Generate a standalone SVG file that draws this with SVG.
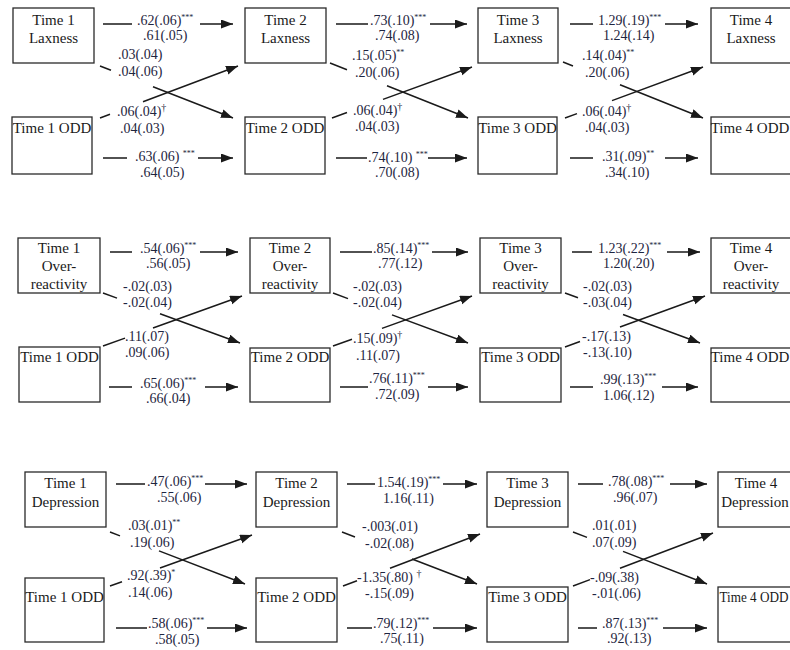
<svg xmlns="http://www.w3.org/2000/svg" width="790" height="650" viewBox="0 0 790 650">
<defs>
<style>
.box{fill:#fff;stroke:#2a2a2a;stroke-width:1.3}
.nt{font-family:"Liberation Serif","Times New Roman",serif;font-size:15px;fill:#1a1a1a;text-anchor:middle}
.lb{font-family:"Liberation Serif","Times New Roman",serif;font-size:14px;fill:#1e2540}
.sup{font-size:8px}
.dg{font-size:10px}
.cn{fill:none;stroke:#1a1a1a;stroke-width:1.5;marker-end:url(#ah)}
</style>
<marker id="ah" markerUnits="userSpaceOnUse" markerWidth="13" markerHeight="10" refX="12" refY="4.5" orient="auto">
<path d="M0,0 L12,4.5 L0,9 z" fill="#1a1a1a"/>
</marker>
</defs>
<rect width="790" height="650" fill="#fff"/>

<!-- Panel 1: Laxness -->
<g id="p1-lax1"><rect class="box" x="13" y="8" width="81" height="55"/><text class="nt" x="53.5" y="25">Time 1</text><text class="nt" x="53.5" y="43">Laxness</text></g>
<g id="p1-lax2"><rect class="box" x="245" y="8" width="81" height="55"/><text class="nt" x="285.5" y="25">Time 2</text><text class="nt" x="285.5" y="43">Laxness</text></g>
<g id="p1-lax3"><rect class="box" x="478" y="8" width="80" height="55"/><text class="nt" x="518" y="25">Time 3</text><text class="nt" x="518" y="43">Laxness</text></g>
<g id="p1-lax4"><rect class="box" x="711" y="8" width="80" height="55"/><text class="nt" x="751" y="25">Time 4</text><text class="nt" x="751" y="43">Laxness</text></g>
<g id="p1-odd1"><rect class="box" x="12" y="117" width="80" height="57"/><text class="nt" x="52" y="133">Time 1 ODD</text></g>
<g id="p1-odd2"><rect class="box" x="245" y="117" width="80" height="57"/><text class="nt" x="285" y="133">Time 2 ODD</text></g>
<g id="p1-odd3"><rect class="box" x="478" y="117" width="79" height="57"/><text class="nt" x="517.5" y="133">Time 3 ODD</text></g>
<g id="p1-odd4"><rect class="box" x="711" y="117" width="80" height="57"/><text class="nt" x="750" y="133">Time 4 ODD</text></g>

<!-- Panel 2: Over-reactivity -->
<g id="p2-ovr1"><rect class="box" x="18" y="238" width="82" height="55"/><text class="nt" x="59" y="253">Time 1</text><text class="nt" x="59" y="271">Over-</text><text class="nt" x="59" y="289">reactivity</text></g>
<g id="p2-ovr2"><rect class="box" x="250" y="238" width="80" height="55"/><text class="nt" x="290" y="253">Time 2</text><text class="nt" x="290" y="271">Over-</text><text class="nt" x="290" y="289">reactivity</text></g>
<g id="p2-ovr3"><rect class="box" x="480" y="238" width="81" height="55"/><text class="nt" x="520.5" y="253">Time 3</text><text class="nt" x="520.5" y="271">Over-</text><text class="nt" x="520.5" y="289">reactivity</text></g>
<g id="p2-ovr4"><rect class="box" x="711" y="238" width="80" height="55"/><text class="nt" x="751" y="253">Time 4</text><text class="nt" x="751" y="271">Over-</text><text class="nt" x="751" y="289">reactivity</text></g>
<g id="p2-odd1"><rect class="box" x="19" y="347" width="81" height="55"/><text class="nt" x="59.5" y="362">Time 1 ODD</text></g>
<g id="p2-odd2"><rect class="box" x="250" y="348" width="80" height="54"/><text class="nt" x="290" y="362">Time 2 ODD</text></g>
<g id="p2-odd3"><rect class="box" x="480" y="348" width="81" height="54"/><text class="nt" x="520.5" y="362">Time 3 ODD</text></g>
<g id="p2-odd4"><rect class="box" x="711" y="348" width="80" height="54"/><text class="nt" x="750" y="362">Time 4 ODD</text></g>

<!-- Panel 3: Depression -->
<g id="p3-dep1"><rect class="box" x="25" y="472" width="81" height="55"/><text class="nt" x="65.5" y="488">Time 1</text><text class="nt" x="65.5" y="507">Depression</text></g>
<g id="p3-dep2"><rect class="box" x="256" y="472" width="81" height="55"/><text class="nt" x="296.5" y="488">Time 2</text><text class="nt" x="296.5" y="507">Depression</text></g>
<g id="p3-dep3"><rect class="box" x="487" y="472" width="81" height="55"/><text class="nt" x="527.5" y="488">Time 3</text><text class="nt" x="527.5" y="507">Depression</text></g>
<g id="p3-dep4"><rect class="box" x="718" y="472" width="81" height="55"/><text class="nt" x="756" y="488">Time 4</text><text class="nt" x="755" y="507">Depression</text></g>
<g id="p3-odd1"><rect class="box" x="25" y="578" width="79" height="64"/><text class="nt" x="64.5" y="602">Time 1 ODD</text></g>
<g id="p3-odd2"><rect class="box" x="256" y="578" width="81" height="64"/><text class="nt" x="296.5" y="602">Time 2 ODD</text></g>
<g id="p3-odd3"><rect class="box" x="487" y="587" width="81" height="55"/><text class="nt" x="527.5" y="602">Time 3 ODD</text></g>
<g id="p3-odd4"><rect class="box" x="718" y="587" width="81" height="55"/><text class="nt" x="754" y="602" textLength="69" lengthAdjust="spacingAndGlyphs">Time 4 ODD</text></g>

<g id="connectors">
<!-- panel 1 -->
<path class="cn" d="M103,24 H132 M200,24 H233"/>
<path class="cn" d="M103,158 H127 M198,158 H233"/>
<path class="cn" d="M100,66 L111,70.3 M153,86.7 L233,118"/>
<path class="cn" d="M100,118 L110,114.2 M143,101.8 L238,66"/>
<path class="cn" d="M336,24 H368 M430,24 H467"/>
<path class="cn" d="M336,158 H367 M428,158 H467"/>
<path class="cn" d="M330,63 L347,69.8 M387,85.7 L468,118"/>
<path class="cn" d="M332,118 L347,112.5 M383,99.4 L472,67"/>
<path class="cn" d="M570,24 H593 M665,24 H698"/>
<path class="cn" d="M570,158 H593 M665,158 H698"/>
<path class="cn" d="M563,62 L573,66 M620,84.8 L703,118"/>
<path class="cn" d="M565,118 L577,113.6 M612,100.6 L703,67"/>
<!-- panel 2 -->
<path class="cn" d="M110,252 H132 M200,252 H238"/>
<path class="cn" d="M109,387 H132 M205,387 H238"/>
<path class="cn" d="M103,293 L117,298.1 M160,313.8 L240,343"/>
<path class="cn" d="M103,346 L125,338.1 M153,328 L242,296"/>
<path class="cn" d="M340,252 H372 M432,252 H468"/>
<path class="cn" d="M340,387 H368 M428,387 H468"/>
<path class="cn" d="M333,293 L348,298.6 M392,314.9 L468,343"/>
<path class="cn" d="M333,346 L352,339.2 M382,328.4 L472,296"/>
<path class="cn" d="M572,252 H592 M667,252 H700"/>
<path class="cn" d="M570,387 H593 M662,387 H698"/>
<path class="cn" d="M565,293 L578,297.8 M623,314.5 L700,343"/>
<path class="cn" d="M565,347 L580,341.5 M620,327 L705,296"/>
<!-- panel 3 -->
<path class="cn" d="M116,484 H145 M205,484 H247"/>
<path class="cn" d="M116,628 H147 M207,628 H247"/>
<path class="cn" d="M110,532 L120,535.9 M159,550.9 L245,584"/>
<path class="cn" d="M110,586 L122,581.7 M160,568 L252,535"/>
<path class="cn" d="M347,484 H375 M443,484 H477"/>
<path class="cn" d="M347,628 H372 M433,628 H477"/>
<path class="cn" d="M342,532 L355,537 M412,559 L477,584"/>
<path class="cn" d="M343,586 L357,580.7 M390,568.2 L480,534"/>
<path class="cn" d="M578,484 H603 M670,484 H707"/>
<path class="cn" d="M578,628 H597 M663,628 H707"/>
<path class="cn" d="M573,532 L587,537.4 M623,551.4 L707,584"/>
<path class="cn" d="M573,586 L590,579.6 M620,568.2 L713,533"/>
</g>

<g id="edge-labels" class="lb">
<!-- panel 1 -->
<text x="137" y="25">.62(.06)<tspan class="sup" dy="-5">***</tspan></text>
<text x="143" y="40">.61(.05)</text>
<text x="118" y="59">.03(.04)</text>
<text x="118" y="76">.04(.06)</text>
<text x="117" y="116">.06(.04)<tspan class="dg" dy="-5">†</tspan></text>
<text x="120" y="133">.04(.03)</text>
<text x="135" y="161">.63(.06) <tspan class="sup" dy="-5">***</tspan></text>
<text x="140" y="177">.64(.05)</text>
<text x="370" y="25">.73(.10)<tspan class="sup" dy="-5">***</tspan></text>
<text x="375" y="40">.74(.08)</text>
<text x="352" y="60">.15(.05)<tspan class="sup" dy="-5">**</tspan></text>
<text x="355" y="77">.20(.06)</text>
<text x="353" y="115">.06(.04)<tspan class="dg" dy="-5">†</tspan></text>
<text x="355" y="131">.04(.03)</text>
<text x="368" y="162">.74(.10) <tspan class="sup" dy="-5">***</tspan></text>
<text x="375" y="177">.70(.08)</text>
<text x="598" y="25">1.29(.19)<tspan class="sup" dy="-5">***</tspan></text>
<text x="603" y="40">1.24(.14)</text>
<text x="582" y="60">.14(.04)<tspan class="sup" dy="-5">**</tspan></text>
<text x="585" y="77">.20(.06)</text>
<text x="582" y="116">.06(.04)<tspan class="dg" dy="-5">†</tspan></text>
<text x="585" y="132">.04(.03)</text>
<text x="602" y="161">.31(.09)<tspan class="sup" dy="-5">**</tspan></text>
<text x="605" y="177">.34(.10)</text>
<!-- panel 2 -->
<text x="140" y="253">.54(.06)<tspan class="sup" dy="-5">***</tspan></text>
<text x="146" y="268">.56(.05)</text>
<text x="123" y="291">-.02(.03)</text>
<text x="123" y="307">-.02(.04)</text>
<text x="125" y="341">.11(.07)</text>
<text x="125" y="357">.09(.06)</text>
<text x="140" y="388">.65(.06)<tspan class="sup" dy="-5">***</tspan></text>
<text x="146" y="403">.66(.04)</text>
<text x="373" y="253">.85(.14)<tspan class="sup" dy="-5">***</tspan></text>
<text x="378" y="268">.77(.12)</text>
<text x="353" y="291">-.02(.03)</text>
<text x="353" y="307">-.02(.04)</text>
<text x="353" y="343">.15(.09)<tspan class="dg" dy="-5">†</tspan></text>
<text x="356" y="360">.11(.07)</text>
<text x="369" y="383">.76(.11)<tspan class="sup" dy="-5">***</tspan></text>
<text x="375" y="399">.72(.09)</text>
<text x="598" y="253">1.23(.22)<tspan class="sup" dy="-5">***</tspan></text>
<text x="603" y="268">1.20(.20)</text>
<text x="583" y="291">-.02(.03)</text>
<text x="583" y="307">-.03(.04)</text>
<text x="582" y="341">-.17(.13)</text>
<text x="583" y="357">-.13(.10)</text>
<text x="600" y="384">.99(.13)<tspan class="sup" dy="-5">***</tspan></text>
<text x="603" y="400">1.06(.12)</text>
<!-- panel 3 -->
<text x="147" y="486">.47(.06)<tspan class="sup" dy="-5">***</tspan></text>
<text x="157" y="502">.55(.06)</text>
<text x="128" y="530">.03(.01)<tspan class="sup" dy="-5">**</tspan></text>
<text x="130" y="547">.19(.06)</text>
<text x="127" y="580">.92(.39)<tspan class="sup" dy="-5">*</tspan></text>
<text x="128" y="597">.14(.06)</text>
<text x="148" y="628">.58(.06)<tspan class="sup" dy="-5">***</tspan></text>
<text x="155" y="644">.58(.05)</text>
<text x="377" y="487">1.54(.19)<tspan class="sup" dy="-5">***</tspan></text>
<text x="383" y="503">1.16(.11)</text>
<text x="362" y="531">-.003(.01)</text>
<text x="365" y="548">-.02(.08)</text>
<text x="357" y="582">-1.35(.80) <tspan class="dg" dy="-5">†</tspan></text>
<text x="365" y="598">-.15(.09)</text>
<text x="373" y="628">.79(.12)<tspan class="sup" dy="-5">***</tspan></text>
<text x="380" y="643">.75(.11)</text>
<text x="608" y="486">.78(.08)<tspan class="sup" dy="-5">***</tspan></text>
<text x="613" y="502">.96(.07)</text>
<text x="592" y="530">.01(.01)</text>
<text x="592" y="547">.07(.09)</text>
<text x="590" y="582">-.09(.38)</text>
<text x="592" y="598">-.01(.06)</text>
<text x="602" y="628">.87(.13)<tspan class="sup" dy="-5">***</tspan></text>
<text x="607" y="643">.92(.13)</text>
</g>
</svg>
